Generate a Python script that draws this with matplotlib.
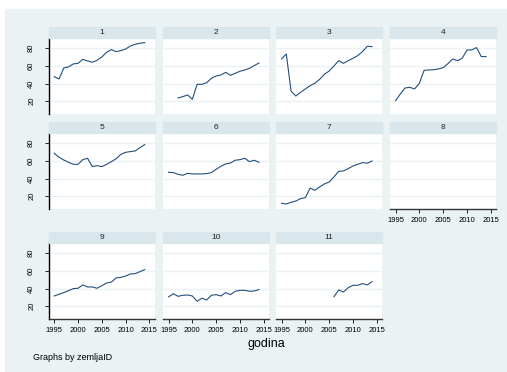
import matplotlib
matplotlib.use("Agg")
import matplotlib.pyplot as plt
from matplotlib.patches import Rectangle

years = list(range(1995, 2015))

s1 = [47.9, 45.3, 57.7, 58.9, 62.3, 63.0, 67.5, 65.7, 64.2, 66.4,
      70.2, 75.5, 78.5, 76.2, 77.4, 79.2, 82.6, 84.5, 85.7, 86.4]
s2 = [None, None, 23.8, 25.3, 27.2, 22.3, 39.2, 39.2, 41.1, 46.0,
      48.7, 49.8, 52.8, 49.4, 51.7, 54.0, 55.5, 57.4, 60.4, 63.4]
s3 = [67.9, 73.6, 31.7, 26.0, 30.2, 34.0, 37.7, 40.4, 44.9, 50.6,
      54.3, 60.0, 66.0, 63.0, 66.0, 68.7, 71.7, 76.2, 82.3, 81.9]
s4 = [20.8, 28.3, 35.1, 35.8, 34.0, 40.4, 55.1, 55.5, 55.8, 56.6,
      58.1, 62.6, 67.9, 66.0, 68.7, 78.1, 78.1, 80.8, 70.6, 70.6]
s5 = [68.7, 64.2, 61.1, 58.5, 56.2, 56.2, 61.5, 63.0, 53.6, 54.7,
      53.6, 56.2, 59.2, 62.6, 67.5, 69.8, 70.6, 71.3, 75.1, 78.5]
s6 = [47.2, 46.8, 44.9, 43.8, 46.0, 45.3, 45.3, 45.3, 45.7, 46.8,
      50.6, 54.0, 56.6, 57.7, 60.8, 61.5, 63.0, 59.2, 60.8, 58.5]
s7 = [12.1, 11.3, 13.2, 14.7, 17.4, 18.5, 29.4, 26.8, 30.6, 34.0,
      36.2, 41.9, 48.3, 48.7, 51.3, 54.3, 56.2, 58.1, 57.4, 60.0]
s8 = [None] * 20
s9 = [31.7, 33.6, 35.5, 37.7, 40.0, 40.4, 44.2, 41.9, 41.9, 40.4,
      43.4, 46.4, 47.5, 52.1, 52.8, 54.3, 56.6, 57.0, 59.2, 61.5]
s10 = [30.6, 34.3, 31.3, 32.5, 32.8, 31.7, 25.7, 29.1, 27.2, 32.5,
       33.2, 31.7, 35.5, 33.2, 37.0, 38.1, 38.1, 37.0, 37.4, 38.9]
s11 = [None] * 11 + [30.9, 38.5, 36.2, 41.1, 43.8, 43.8, 45.7, 44.2, 47.9]

series = [s1, s2, s3, s4, s5, s6, s7, s8, s9, s10, s11]
panel_labels = ["1", "2", "3", "4", "5", "6", "7", "8", "9", "10", "11"]
yticks = [20, 40, 60, 80]
xticks = [1995, 2000, 2005, 2010, 2015]

BG = "#EAF2F3"
STRIP = "#D9E6EB"
LINE = "#244F7C"
FONT = "Liberation Sans"

W, H = 507, 372
fig = plt.figure(figsize=(W / 100, H / 100), dpi=100)
fig.patch.set_facecolor("white")
fig.add_artist(Rectangle((5 / W, 0), 1 - 5 / W, 1 - 9 / H,
                         transform=fig.transFigure, color=BG, zorder=0))

col_x = [49, 163.3, 276.3, 390.3]
row_top = [38.3, 133.3, 243.3]
pw, ph = 105.5, 76
sh = 11.5

for i, (vals, lab) in enumerate(zip(series, panel_labels)):
    r, c = divmod(i, 4)
    x0 = col_x[c]
    top = row_top[r]
    ax = fig.add_axes([x0 / W, 1 - (top + ph) / H, pw / W, ph / H])
    ax.set_facecolor("white")
    ax.set_xlim(1993.9, 2016.05)
    ax.set_ylim(5.3, 91.3)
    for yv in yticks:
        ax.axhline(yv, color=BG, lw=1.0, zorder=1)
    xs = [y for y, v in zip(years, vals) if v is not None]
    ys = [v for v in vals if v is not None]
    if xs:
        ax.plot(xs, ys, color=LINE, lw=0.8, zorder=3)
    for s in ax.spines.values():
        s.set_visible(False)
    if c == 0:
        ax.spines["left"].set_visible(True)
        ax.spines["left"].set_color("black")
        ax.spines["left"].set_linewidth(1.0)
        ax.set_yticks(yticks)
        ax.set_yticklabels([str(t) for t in yticks], rotation=90,
                           va="center", fontsize=5.5, family=FONT)
        ax.tick_params(axis="y", direction="out", length=3, width=0.6,
                       pad=7, colors="black")
    else:
        ax.set_yticks([])
    if i >= 7:
        ax.spines["bottom"].set_visible(True)
        ax.spines["bottom"].set_color("#333333")
        ax.spines["bottom"].set_linewidth(1.0)
        ax.set_xticks(xticks)
        ax.set_xticklabels([str(t) for t in xticks], fontsize=5.5,
                           family=FONT)
        ax.tick_params(axis="x", direction="out", length=3, width=0.6,
                       pad=2.5, colors="black")
    else:
        ax.set_xticks([])
    fig.add_artist(Rectangle((x0 / W, 1 - top / H), pw / W, sh / H,
                             transform=fig.transFigure, color=STRIP, zorder=1))
    fig.text((x0 + pw / 2) / W, 1 - (top - sh / 2) / H, lab,
             ha="center", va="center", fontsize=6, family=FONT, color="#222222")

fig.text(266 / W, 1 - 344 / H, "godina", ha="center", va="center",
         fontsize=9, family=FONT, color="black")
fig.text(33 / W, 1 - 358 / H, "Graphs by zemljaID", ha="left", va="center",
         fontsize=6.5, family=FONT, color="black")

fig.savefig("out.png", dpi=100, facecolor=fig.get_facecolor())
